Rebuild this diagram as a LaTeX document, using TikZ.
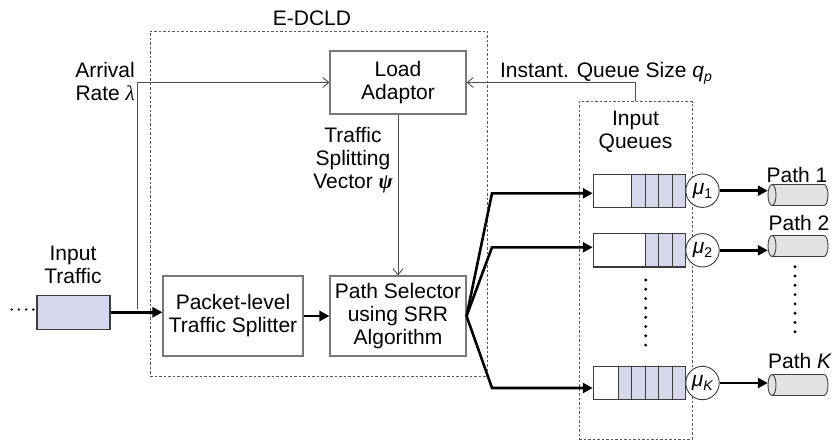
\documentclass[tikz,border=0pt]{standalone}
\usepackage{fontspec}
\setmainfont{Liberation Sans}
\newfontfamily\serifgreek{Liberation Serif}
\usetikzlibrary{arrows.meta}
\definecolor{lav}{RGB}{215,215,236}
\definecolor{cylgray}{RGB}{226,226,226}
\definecolor{boxgray}{RGB}{120,120,120}
\definecolor{linegray}{RGB}{80,80,80}
\definecolor{qgray}{RGB}{60,60,60}
\definecolor{dashgray}{RGB}{90,90,90}
\newcommand{\subtxt}[1]{{\fontsize{14}{14}\selectfont\raisebox{-4pt}{#1}}}
\begin{document}
\begin{tikzpicture}[x=1pt,y=-1pt,
  font=\fontsize{21}{23}\selectfont,
  box/.style={draw=boxgray, line width=1.1pt, align=center, inner sep=0pt},
  dashbox/.style={draw=dashgray, line width=0.8pt, dash pattern=on 2.5pt off 2pt, inner sep=0pt},
  qbox/.style={draw=qgray, line width=1.1pt, fill=white, inner sep=0pt, minimum width=92.4pt, minimum height=33.3pt},
  qcell/.style={draw=qgray, line width=1.1pt, fill=lav},
  server/.style={circle, draw=qgray, line width=0.9pt, fill=white, minimum size=33.4pt, inner sep=0pt},
  thinarr/.style={draw=linegray, line width=0.9pt, -{Straight Barb[length=6pt,width=10pt]}},
  thickarr/.style={draw=black, line width=2.6pt, -{Triangle[length=10pt,width=10pt]}},
  cylnode/.style={minimum width=60pt, minimum height=21pt, inner sep=0pt},
  label/.style={align=center, inner sep=0pt},
  pathcyl/.pic={
    \filldraw[fill=cylgray, draw=qgray, line width=0.9pt] (26,0) ellipse [x radius=4, y radius=10.5];
    \fill[cylgray] (-26,-10.5) rectangle (26,10.5);
    \draw[qgray, line width=0.9pt] (-26,-10.5) -- (26,-10.5) (-26,10.5) -- (26,10.5);
    \filldraw[fill=cylgray, draw=qgray, line width=0.9pt] (-26,0) ellipse [x radius=4, y radius=10.5];
  }
]
\useasboundingbox (0,0) rectangle (832,441);

% dashed containers
\node[dashbox, minimum width=337pt, minimum height=345pt] (ed) at (318.5,203.5) {};
\node[label] (edl) at (312,18) {E-DCLD};
\node[dashbox, minimum width=113pt, minimum height=337.3pt] (iq) at (635.5,270.3) {};
\node[label] (iql) at (635.5,131.5) {Input\\Queues};

% main boxes
\node[box, minimum width=136pt, minimum height=63pt] (la) at (398,82.5) {Load\\Adaptor};
\node[box, minimum width=140pt, minimum height=80pt] (pk) at (233,316) {Packet-level\\Traffic Splitter};
\node[box, minimum width=136pt, minimum height=80pt] (ps) at (398,316) {Path Selector\\using SRR\\Algorithm};
\node[draw=qgray, line width=1.1pt, fill=lav, minimum width=73pt, minimum height=33.5pt, inner sep=0pt] (in) at (73.5,312.3) {};

% labels
\node[label] (itl) at (73,265) {Input\\Traffic};
\node[align=right, anchor=east, inner sep=0pt] (arl) at (135,81) {Arrival\\Rate {\serifgreek\itshape λ}};
\node[label] (tsv) at (353,160) {Traffic\\Splitting\\Vector {\serifgreek\bfseries\itshape ψ}};
\node[label] (iqs) at (606,73) {Instant. Queue Size \textit{q}\subtxt{\textit{p}}};

% input dots
\foreach \i in {0,...,3} \fill (11.7+\i*7.2,309.5) circle (1.3);

% queues
\node[qbox] (q1) at (639.5,190.7) {};
\node[qbox] (q2) at (639.5,250.3) {};
\node[qbox] (qK) at (639.5,383) {};
\foreach \i in {1,...,4} \draw[qcell] (685.9-\i*13.55,174.05) rectangle ++(13.55,33.3);
\foreach \i in {1,...,3} \draw[qcell] (685.9-\i*13.55,233.65) rectangle ++(13.55,33.3);
\foreach \i in {1,...,5} \draw[qcell] (685.9-\i*13.55,366.35) rectangle ++(13.55,33.3);
\foreach \i in {0,...,7} \fill (645.7,280+\i*9.3) circle (1.6);

% servers
\node[server] (m1) at (702.5,190.7) {\textit{μ}\subtxt{1}};
\node[server] (m2) at (702.5,250.3) {\textit{μ}\subtxt{2}};
\node[server] (mK) at (702.5,383) {\textit{μ}\subtxt{\textit{K}}};

% paths
\node[cylnode] (p1) at (798,195) {};
\node[cylnode] (p2) at (798,246) {};
\node[cylnode] (pK) at (798,385) {};
\pic at (p1) {pathcyl};
\pic at (p2) {pathcyl};
\pic at (pK) {pathcyl};
\node[label] (pl1) at (797,174.5) {Path 1};
\node[label] (pl2) at (799,222.5) {Path 2};
\node[label] (plK) at (800,361) {Path \textit{K}};
\foreach \i in {0,...,7} \fill (795,266.7+\i*9.3) circle (1.6);

% connectors
\coordinate (tap) at (137,309);
\draw[thinarr] (tap) |- (la.west);
\draw[thinarr] (la.south) -- (ps.north);
\draw[thinarr] (iq.north) |- (la.east);
\draw[thickarr] (in.east) -- (in.east -| pk.west);
\draw[thickarr] (pk.east) -- (ps.west);
\coordinate (c1) at (492,193.3);
\coordinate (c2) at (492,247.3);
\coordinate (cK) at (492,388);
\draw[thickarr] (ps.east) -- (c1) -- (c1 -| q1.west);
\draw[thickarr] (ps.east) -- (c2) -- (c2 -| q2.west);
\draw[thickarr] (ps.east) -- (cK) -- (cK -| qK.west);
\draw[thickarr] (m1.east) -- (m1.east -| p1.west);
\draw[thickarr] (m2.east) -- (m2.east -| p2.west);
\draw[thickarr] (mK.east) -- (mK.east -| pK.west);
\end{tikzpicture}
\end{document}
